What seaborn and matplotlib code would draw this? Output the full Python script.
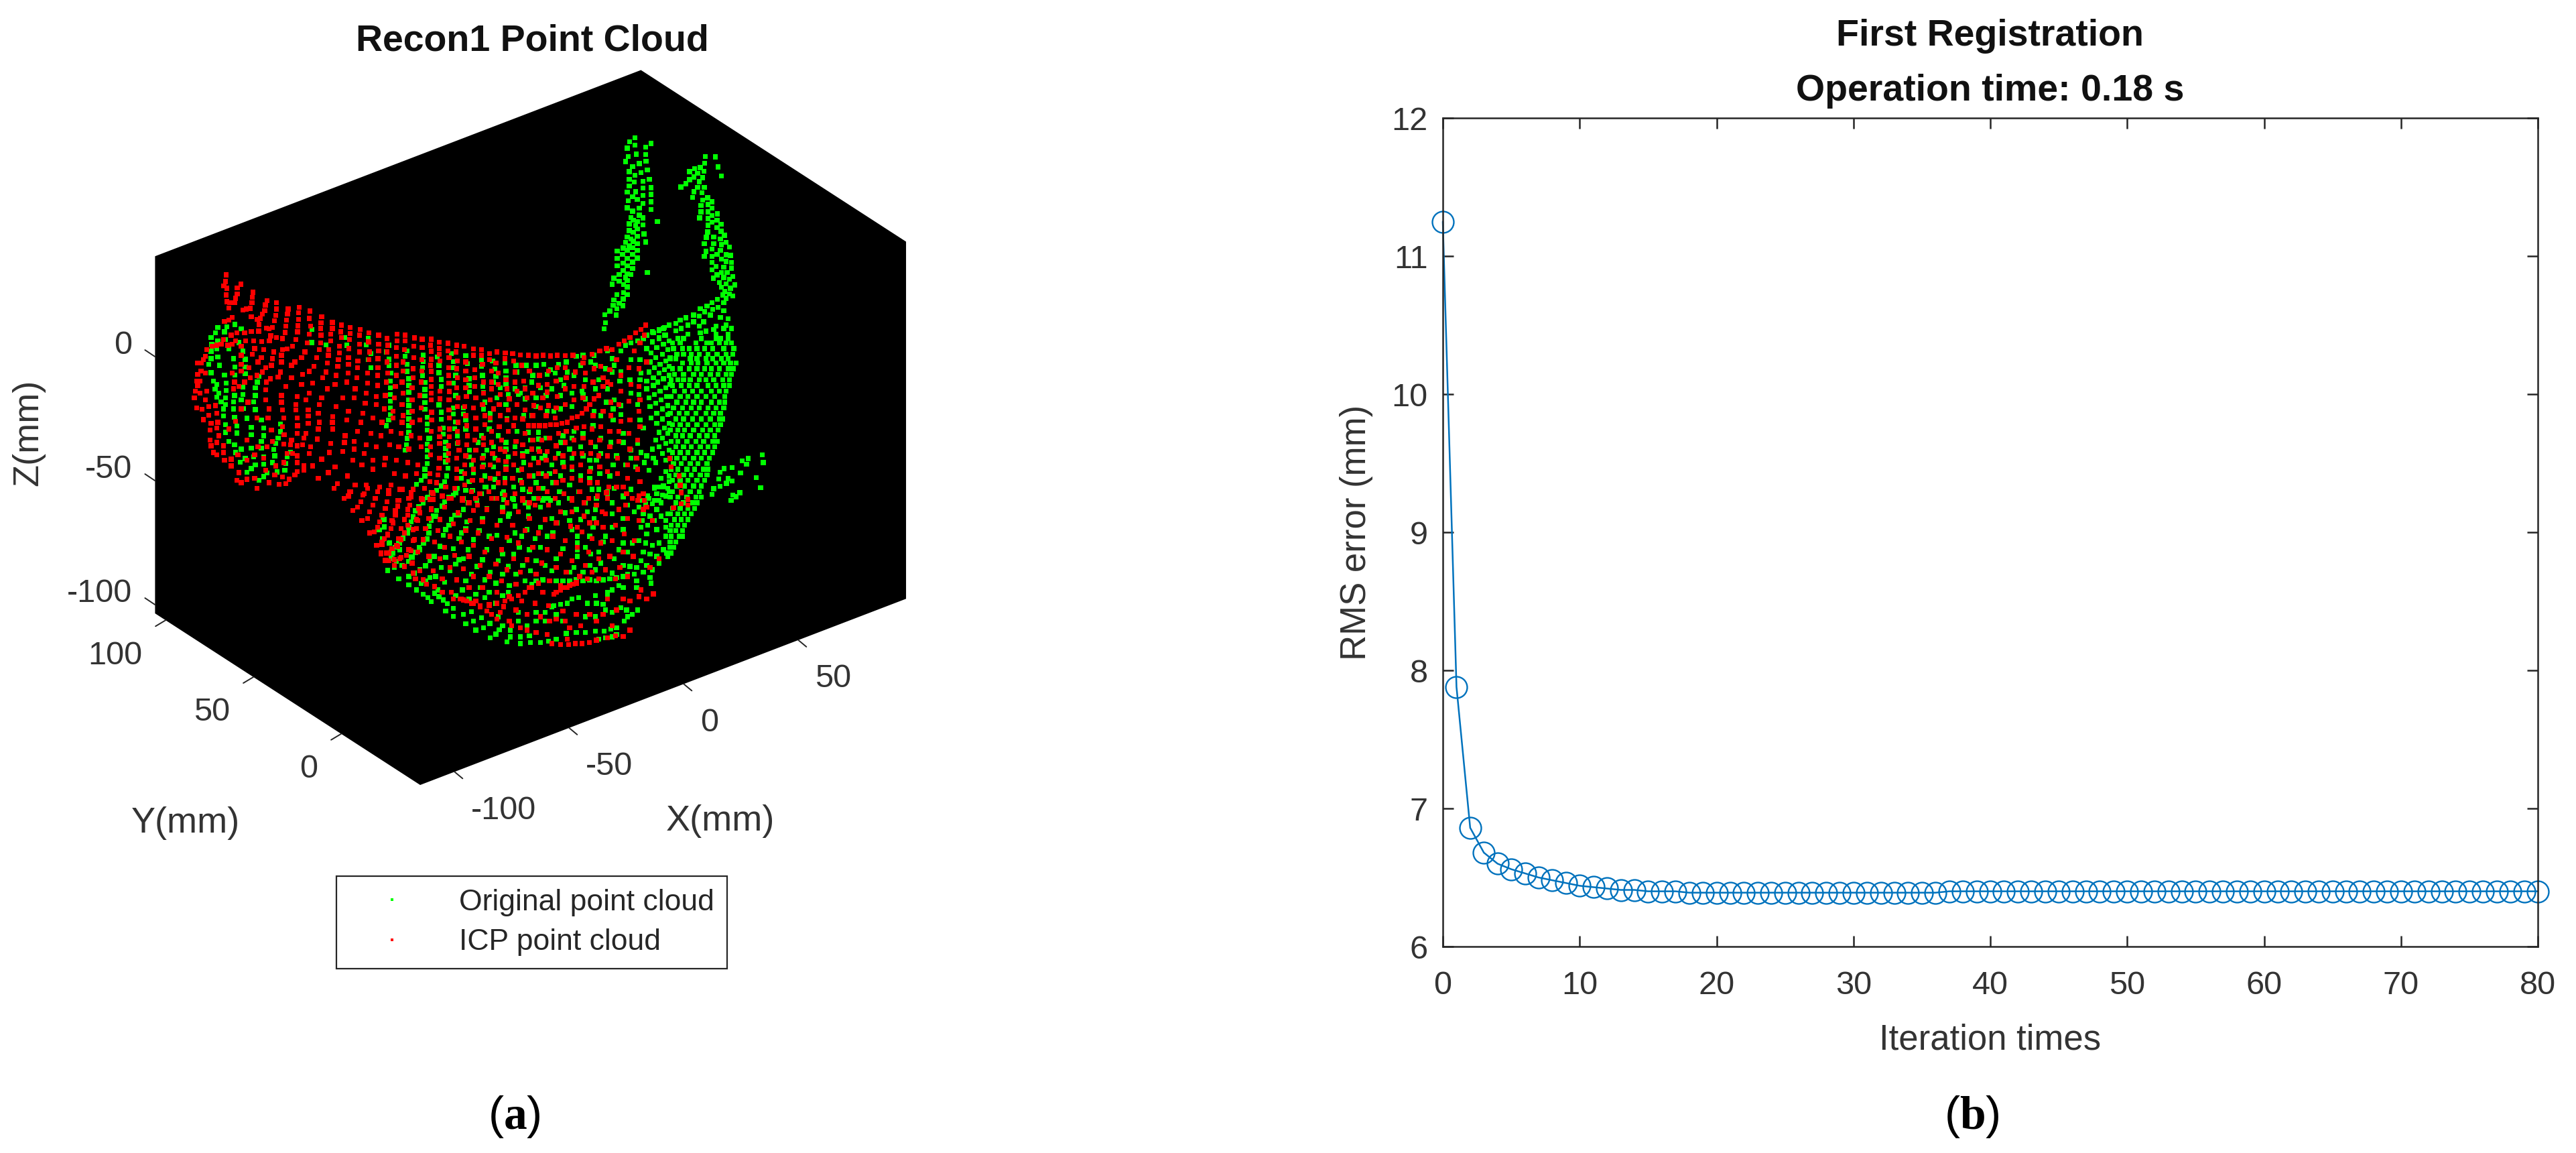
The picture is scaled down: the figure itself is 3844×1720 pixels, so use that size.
# Recon1 point cloud (a) and first registration error curve (b)

import numpy as np
import pandas as pd
import seaborn as sns
from matplotlib import pyplot as plt

# points, in 3x zoom pixels of each patch
red_left = [(172,30),(170,60),(162,80),(175,90),(172,120),(175,150),(188,155),(185,178),
    (238,72),(222,88),(222,115),(215,135),(210,155),(293,108),(290,130),(288,155),(280,180),(262,183),(248,187),
    (355,145),(348,165),(345,190),(335,205),(325,225),(312,230),(320,252),(318,282),
    (398,155),(397,183),(395,212),(388,235),(380,265),(352,268),(365,272),
    (450,183),(447,205),(443,232),(440,260),(437,288),(425,315),(397,310),(372,303),(366,325),
    (500,175),(497,200),(497,230),(493,258),(492,285),(485,320),(470,350),(445,362),(425,365),(420,390),(420,420),(415,465),(405,487),(370,495),(352,510),(350,545),
    (547,192),(545,225),(550,260),(545,295),(535,335),(525,375),(510,400),(480,420),(465,435),(465,490),(440,530),(420,570),(420,600),(425,635),(430,670),(425,710),(432,745),(430,787),
    (600,217),(597,245),(595,270),(597,300),(595,335),(590,365),(578,400),(565,440),(545,462),(515,475),(510,520),(490,575),(485,610),(485,635),(490,670),(492,705),(490,740),(465,770),(460,790),
    (648,243),(648,270),(640,295),(640,325),(632,365),(630,390),(625,425),(620,465),(605,490),(560,515),(545,560),(530,590),(540,635),(540,662),(540,695),(530,740),(520,760),(515,790),(490,840),(490,870),
    (688,255),(685,285),(688,310),(680,350),(680,380),(675,410),(672,440),(665,480),(660,520),(625,540),(600,580),(590,610),(585,650),(590,690),(585,720),(580,765),(550,800),(545,830),(520,885),
    (728,265),(728,292),(725,320),(722,360),(720,400),(720,430),(718,470),(712,510),(695,580),(665,620),(650,665),(648,690),(650,720),(640,785),(635,825),(600,855),(560,885),(520,905),(490,910),
    (772,275),(770,300),(770,340),(770,375),(762,415),(760,445),(758,490),(750,540),(745,580),(720,640),(712,680),(705,750),(702,780),(695,820),(660,890),(630,915),(585,940),
    (812,290),(810,330),(815,375),(812,410),(805,470),(805,515),(800,560),(795,605),(785,650),(775,690),(760,730),(745,775),(745,810),(740,860),(715,930),(670,965),(655,985),
    (855,300),(855,340),(855,370),(852,405),(852,445),(850,480),(850,525),(845,575),(845,610),(830,670),(820,740),(800,790),(790,830),(780,880),(750,970),(725,1000),
    (893,315),(895,345),(892,375),(892,420),(895,470),(890,510),(885,570),(880,630),(870,690),(865,750),(845,800),(830,860),(830,900),(800,970),(790,1010),
    (937,295),(937,325),(935,355),(935,395),(935,435),(935,480),(930,530),(925,580),(920,640),(920,670),(910,730),(905,790),(885,850),(880,880),(860,980),(850,1000),
    (973,300),(973,325),(970,365),(965,420),(965,460),(960,510),(965,560),(960,610),(965,660),(960,690),(955,740),(945,800),(935,860),(925,920),(910,970),(900,1010),
    (1015,312),(1012,350),(1012,400),(1010,450),(1010,490),(1005,535),(1005,590),(1005,640),(1005,690),(1000,750),(990,810),(985,870),(975,930),(960,990),
    (1050,318),(1050,355),(1048,410),(1048,460),(1045,510),(1040,570),(1045,625),(1040,680),(1040,760),(1045,800),(1030,880),(1025,920),(1000,1005),
    (200,220),(185,232),(165,238),(285,218),(255,290),(285,283),(320,282),(295,325),(332,328),(365,325),(220,290),(195,300),(160,320),(215,325),(150,340),(130,345),(110,350),(180,345),(200,340),
    (85,365),(80,395),(70,410),(60,425),(45,425),(60,460),(45,475),(80,470),(40,505),(55,505),(45,525),(35,550),(55,560),(85,550),(30,580),(80,590),(40,625),(65,632),(95,620),(125,615),(95,658),(130,650),
    (70,678),(105,695),(135,690),(100,725),(130,715),(140,750),(100,770),(105,795),(130,780),(160,795),(115,825),(130,835),(160,825),(165,860),(195,855),(195,885),
    (240,350),(260,325),(300,360),(290,385),(340,365),(330,400),(315,420),(385,375),(380,405),(375,435),(350,445),(335,465),(310,480),(280,490),(255,510),(230,530),(205,540),
    (240,390),(240,430),(240,460),(275,445),(200,470),(210,510),(350,590),(365,630),(360,670),(375,725),(380,775),(355,800),(315,800),(265,770),(310,670),(270,600),(240,630),(215,685),(185,720),
    (230,915),(265,945),(220,950),(240,960),(300,940),(310,985),(365,960),(410,968),(440,965),(455,945),(480,925),(425,935),(390,925),(350,905),(430,870),(395,885),(340,850),(300,835),(265,860),(225,835),(490,795),(445,830),(470,830)]

green_left = [(135,265),(175,262),(212,252),(240,272),(125,290),(165,285),(105,310),(135,325),(170,320),(230,333),(108,342),(185,362),(130,362),(105,372),(248,372),(135,398),(105,405),(205,405),(258,408),
    (95,430),(142,435),(212,443),(258,443),(105,468),(165,478),(212,478),(258,472),(320,485),(115,505),(172,515),(312,510),(130,520),(123,542),(172,548),(248,533),(303,535),(140,560),(210,570),(248,565),(303,570),
    (130,578),(170,580),(240,590),(150,598),(205,598),(295,598),(170,610),(160,630),(205,630),(250,628),(303,633),(160,662),(210,668),(265,672),(330,680),(415,697),(170,700),(220,706),(285,713),(340,716),(415,732),
    (170,735),(220,738),(285,745),(340,750),(405,760),(185,775),(330,775),(395,785),(210,790),(240,810),(285,805),(330,805),(385,812),(215,825),(460,823),(258,852),(295,845),(340,845),(390,840),(445,845),
    (235,868),(380,870),(440,875),(303,880),(340,878),(285,897),(435,905),(265,913),(355,917),(400,912),(340,933),(320,950),
    (557,275),(595,268),(555,333),(620,343),(702,310),(712,345),(808,315),(800,343),(820,382),(810,410),(820,445),(900,345),(890,375),(902,408),(902,435),(910,470),(908,505),(908,535),(908,565),(908,595),(908,625),(908,655),(900,680),(890,705),
    (982,370),(973,395),(982,430),(982,462),(990,495),(990,525),(990,555),(990,590),(990,615),(990,645),(990,675),(990,705),(990,735),(982,762),(980,790),(973,815),
    (1055,390),(1055,418),(1052,445),(1052,480),(1062,512),(1062,543),(1062,572),(1062,602),(1062,632),(1072,668),(1072,697),(1072,725),(1080,762),(1072,788),(1072,815),(1072,845),(1072,875),(1062,900),(1062,930),(1045,950),(1025,968)]

red_gap = [(85,10),(130,55),(150,45),(160,25),(170,110),(190,95),(205,70),(215,40),(235,10),(210,155),(235,145),(245,115),(260,85),(270,55),(280,25),
    (245,210),(265,205),(280,185),(290,160),(300,130),(315,100),(322,70),(330,20),(275,265),(300,262),(310,235),(325,215),(340,190),(350,165),(360,130),(370,90),(375,65),(380,15),
    (295,300),(320,300),(345,280),(370,270),(385,240),(400,210),(415,175),(415,130),(425,85),(430,50),(440,15),(380,325),(410,310),(430,290),(445,240),(455,190),(460,155),(470,120),(480,60),(490,10),(520,100),(515,60),(525,30)]

green_gap = [(305,150),(310,183),(288,197),(325,220),(303,237),(333,257),(360,275),(345,295),(378,255),(395,232),(415,210),(422,187),(430,160),(440,138),(448,112),(465,92),(485,72),(503,52),(520,30),
    (350,300),(340,320),(430,318),(450,297),(467,275),(487,255),(503,237),(512,210),(512,180),(520,155),(530,135),(530,315)]

red_mid = [(10,78),(8,105),(10,132),(10,168),(8,195),(10,222),(10,258),(10,290),(10,320),(10,350),(12,405),(12,440),(10,490),(8,560),(8,595),(5,680),(5,715),
    (47,92),(47,120),(47,145),(50,175),(50,310),(50,345),(50,480),(48,515),(48,545),(48,610),(45,655),(40,685),(35,720),(20,770),
    (85,96),(85,130),(90,160),(88,205),(88,240),(90,275),(92,312),(90,350),(90,395),(92,430),(92,480),(92,515),(88,555),(88,590),(85,620),(75,740),(60,780),
    (125,105),(122,135),(128,175),(125,210),(128,250),(125,295),(130,340),(128,380),(130,450),(128,490),(130,540),(135,575),(125,610),(125,660),(125,700),(115,745),(100,790),
    (158,110),(165,180),(165,220),(165,260),(165,295),(168,335),(160,380),(165,420),(170,465),(172,510),(170,550),(165,600),(160,640),(160,680),(160,730),(150,790),
    (200,122),(200,150),(205,215),(205,250),(205,290),(210,340),(200,385),(210,430),(210,480),(205,530),(210,575),(200,620),(200,660),(195,710),(190,760),(180,810),
    (235,125),(235,150),(240,190),(245,270),(245,320),(240,370),(250,420),(250,460),(245,520),(245,550),(240,610),(240,650),(235,710),(228,770),(218,820),
    (272,142),(272,170),(280,220),(280,270),(280,300),(275,350),(290,390),(275,430),(280,490),(280,540),(285,590),(275,640),(275,700),(268,760),
    (305,135),(300,185),(310,230),(310,280),(320,325),(315,370),(320,420),(315,470),(325,530),(320,570),(310,620),(310,680),(310,720),(305,790),
    (342,140),(340,165),(345,260),(350,300),(360,345),(355,395),(350,440),(355,490),(340,580),(345,625),(345,660),(340,720),(340,775),
    (375,142),(380,175),(385,225),(385,270),(395,310),(395,370),(385,430),(380,465),(390,535),(385,590),(380,640),(375,700),(385,770),
    (410,148),(415,195),(425,265),(430,300),(440,340),(430,395),(420,435),(430,500),(420,550),(420,600),(415,660),(415,720),(420,790),
    (445,150),(450,220),(465,320),(470,375),(465,420),(445,465),(470,465),(465,530),(460,570),(455,640),(450,690),(455,750),(450,810),
    (480,153),(495,240),(490,285),(510,340),(500,385),(495,465),(520,465),(505,530),(495,580),(490,630),(490,680),(490,745),(490,790),
    (512,150),(535,220),(530,280),(530,315),(535,375),(525,420),(545,460),(570,460),(540,520),(530,580),(525,620),(525,690),(530,760),
    (545,153),(575,205),(570,265),(575,335),(570,385),(565,430),(595,455),(620,450),(580,500),(570,555),(565,610),(565,670),(570,720),(565,790),
    (575,150),(610,205),(615,250),(610,300),(610,370),(640,430),(665,425),(615,490),(610,540),(600,600),(605,650),(600,710),(605,770),
    (610,152),(655,225),(650,290),(650,350),(685,410),(705,390),(720,370),(660,475),(650,530),(650,590),(640,650),(640,700),(640,790),
    (645,150),(690,185),(700,230),(695,290),(690,340),(740,345),(760,330),(695,470),(690,520),(685,590),(680,640),(680,710),(675,760),
    (695,160),(740,210),(735,270),(780,290),(735,420),(730,480),(725,540),(725,590),(720,670),(720,720),(715,790),
    (730,145),(770,200),(780,250),(800,270),(780,400),(770,470),(765,530),(760,600),(765,650),(755,720),(755,780),
    (765,130),(810,215),(815,280),(815,360),(815,420),(810,490),(810,560),(800,600),(800,670),(795,765),
    (795,120),(840,170),(860,240),(860,310),(850,370),(860,445),(850,490),(850,535),(845,610),(845,680),(840,740),
    (820,125),(850,100),(875,85),(900,70),(925,50),(950,35),(970,15),(945,95),(920,130),(895,205),(905,280),(895,355),(900,440),(895,500),(900,570),(890,640),(890,700),(885,770),(880,820),
    (965,60),(975,180),(940,210),(940,290),(945,350),(940,400),(945,470),(935,530),(930,610),(935,660),(945,715),(960,770),(935,800),(965,800),(975,830)]

green_mid = [(38,158),(45,195),(45,228),(55,258),(55,290),(45,372),(55,405),(55,437),(65,475),(65,503),(5,520),(75,538),(75,567),(75,597),(75,627),(85,655),(80,690),(70,715),(55,735),(35,755),(12,765),
    (100,142),(110,178),(108,205),(120,240),(110,275),(120,330),(110,385),(110,412),(120,448),(115,478),(128,512),(128,545),(145,670),(145,700),(128,745),(110,775),(90,790),(70,805),
    (165,152),(172,188),(180,255),(180,285),(182,313),(155,385),(155,412),(165,440),(165,480),(182,575),(180,605),(190,640),(200,675),(180,715),(165,755),(155,790),
    (235,172),(235,200),(240,240),(242,290),(245,318),(250,360),(245,390),(275,410),(275,440),(270,480),(235,510),(220,540),(260,575),(245,600),(245,640),(250,690),(250,740),(235,770),(215,800),
    (285,175),(295,212),(300,245),(290,270),(320,295),(305,340),(315,370),(350,435),(310,510),(290,560),(295,610),(290,650),(295,705),(290,740),(285,790),
    (340,185),(345,220),(345,250),(345,280),(355,325),(345,370),(400,325),(395,490),(345,540),(345,570),(355,605),(345,650),(340,700),(335,760),
    (390,195),(395,225),(385,300),(430,295),(410,320),(425,420),(445,495),(385,560),(420,590),(400,665),(425,630),(410,710),(380,740),(375,790),
    (435,195),(465,240),(460,270),(430,345),(480,340),(460,420),(490,495),(455,530),(440,580),(470,610),(465,690),(480,720),(420,750),(430,810),
    (480,195),(515,190),(497,240),(530,235),(500,295),(525,330),(480,380),(530,400),(525,520),(490,525),(490,570),(505,610),(505,680),(510,745),(470,790),
    (545,215),(580,190),(565,230),(590,260),(550,300),(590,330),(560,400),(520,600),(550,640),(540,680),(555,720),(535,790),(510,800),
    (615,180),(660,155),(620,225),(650,240),(605,285),(640,320),(590,390),(600,510),(590,540),(580,590),(600,630),(590,690),(585,760),(545,800),
    (690,150),(680,195),(700,260),(685,310),(690,325),(640,380),(650,490),(640,520),(630,570),(640,610),(640,660),(630,730),(630,790),
    (740,150),(725,180),(745,195),(770,200),(760,260),(745,300),(700,345),(740,400),(690,500),(680,560),(690,600),(680,640),(680,690),(670,760),
    (800,130),(820,165),(790,210),(820,225),(800,300),(795,360),(770,420),(735,465),(770,520),(745,560),(720,620),(725,655),(720,700),(730,750),(760,750),
    (860,130),(880,105),(830,195),(860,225),(855,265),(830,350),(825,390),(825,440),(870,500),(815,540),(770,590),(750,620),(765,680),(800,770),(820,810),
    (905,95),(935,85),(905,170),(900,260),(905,320),(860,375),(860,415),(905,575),(870,540),(840,600),(825,640),(810,690),(870,785),(830,745),
    (960,75),(975,60),(945,170),(975,120),(950,230),(945,260),(940,325),(935,370),(945,440),(960,475),(935,545),(905,610),(925,650),(880,640),(905,750),
    (1000,45),(1030,35),(1055,25),(1000,90),(1030,75),(1060,60),(995,140),(1020,115),(1050,100),(1075,85),(990,180),(1015,160),(1045,145),(1070,125),(985,225),(1010,205),(1035,190),(1060,175),(1080,160),
    (975,265),(1005,250),(1030,230),(1055,215),(1075,200),(975,300),(1005,285),(1025,270),(1050,255),(1075,240),(985,340),(1010,325),(1035,310),(1060,295),(1080,280),(990,380),(1015,365),(1040,350),(1065,335),
    (995,430),(1020,410),(1045,390),(1070,375),(1020,455),(1045,435),(1070,415),(1030,495),(1055,475),(1075,455),(1015,530),(1045,520),(1070,500),(1000,570),(1030,560),(1060,545),(950,585),(975,600),(1005,610),(1045,590),(1075,575),
    (1015,630),(1060,620),(965,630),(985,665),(1040,700),(1060,670),(1075,690),(1010,745),(1030,740),(1050,735),(1075,715),(1020,770),(1045,775),(1075,760),(985,790),(1010,800),(1040,810),(970,815)]

red_low = [(100,80),(90,125),(75,170),(70,205),(55,235),(30,265),(8,280),
    (150,70),(145,120),(130,165),(115,205),(105,250),(95,280),(60,315),(25,318),(45,348),
    (205,70),(195,115),(185,165),(170,210),(170,260),(150,300),(115,335),(85,345),(60,350),
    (260,75),(250,120),(240,160),(225,205),(215,255),(190,310),(165,360),(130,375),(85,370),
    (330,70),(310,110),(290,165),(280,215),(265,265),(240,330),(200,395),(170,405),(180,430),
    (390,80),(370,135),(350,185),(335,240),(310,290),(290,340),(260,395),(215,435),(230,455),
    (450,70),(440,125),(425,170),(405,215),(385,265),(355,325),(335,380),(300,430),(265,465),(300,490),
    (520,70),(500,120),(480,175),(460,225),(440,280),(420,330),(395,385),(365,435),(340,490),(385,520),(350,520),
    (590,90),(570,130),(545,190),(520,250),(490,310),(470,370),(440,420),(420,470),(395,525),(430,540),
    (660,80),(640,130),(615,190),(590,245),(565,300),(540,365),(510,420),(480,470),(450,530),(470,555),
    (715,100),(690,160),(670,215),(640,270),(620,340),(590,390),(565,440),(545,490),(510,550),(500,575),(520,590),
    (775,100),(760,165),(730,225),(705,290),(680,345),(650,400),(630,455),(600,510),(575,555),(560,580),(545,610),
    (830,130),(810,180),(795,240),(770,300),(745,360),(720,410),(690,470),(655,530),(630,570),(600,620),
    (880,130),(875,195),(850,260),(830,320),(810,380),(780,440),(750,490),(715,540),(680,590),(650,650),(610,640),
    (935,150),(925,220),(905,290),(880,350),(855,400),(830,460),(860,470),(800,500),(775,550),(740,600),(720,670),(680,660),
    (990,180),(970,250),(955,310),(940,370),(915,420),(900,450),(870,460),(840,575),(810,610),(770,680),(790,720),
    (1040,70),(1030,140),(1020,200),(1010,270),(1000,340),(970,400),(950,430),(900,590),(870,650),(830,725),(860,700),
    (1110,20),(1090,120),(1075,190),(1060,260),(1050,330),(1030,390),(1000,430),(960,590),(920,640),(895,720),(925,720),
    (1150,70),(1130,160),(1115,230),(1110,310),(1095,380),(1075,430),(1040,520),(1020,590),(990,620),(958,715),(990,705),
    (1200,120),(1180,170),(1160,260),(1155,330),(1130,420),(1110,520),(1080,570),(1060,640),(1040,695),(1075,685),(1110,688),(1140,660),(1215,520),(1245,498),(1180,510),(1140,530),
    (850,470),(830,480),(810,490),(885,455),(900,445),(380,520),(410,530),(440,540),(470,550),(510,545),(545,540),(580,530),(610,520),(640,505),(670,490),(700,470),(730,450),
    (865,725),(850,620),(780,620),(880,80),(935,90),(990,100),(905,200),(960,180),(1015,130),(1045,20),(1180,60),(1240,170),(1190,480),(1230,380),(1270,340)]

green_low = [(40,165),(40,198),(15,212),(55,235),(35,252),(65,270),(90,290),(70,310),(75,340),(95,352),(85,380),(55,393),(120,370),(105,430),(150,420),(150,458),(175,405),(200,390),(205,452),(185,480),(215,500),(235,515),(250,533),(225,440),(245,425),(265,495),(285,510),(305,525),(323,542),(315,575),(350,563),(350,598),(395,590),(430,578),(405,632),(440,620),(475,605),(450,660),(485,650),(513,630),(550,600),(515,695),(540,678),(555,658),(570,640),(605,660),(605,690),(590,713),(650,690),(650,720),(695,715),(690,685),(740,715),(775,710),
    (235,65),(215,90),(195,110),(180,125),(170,155),(150,200),(125,250),(105,270),(110,300),
    (300,105),(275,125),(270,150),(250,170),(240,225),(215,270),(200,300),(180,310),(165,335),(148,353),
    (360,45),(330,65),(355,145),(340,165),(330,190),(315,210),(305,235),(290,285),(265,330),(245,350),(225,372),
    (435,35),(415,90),(395,120),(375,145),(410,175),(405,205),(385,225),(375,250),(350,295),(315,335),(295,380),(270,420),
    (495,20),(500,115),(480,160),(465,215),(440,255),(415,300),(395,340),(375,345),(360,365),(335,395),(310,445),(280,480),
    (570,50),(575,75),(570,110),(595,150),(560,170),(545,235),(510,240),(500,300),(480,345),(455,375),(430,410),(405,440),(390,480),(360,505),
    (620,75),(625,105),(600,140),(625,225),(600,260),(570,320),(550,350),(515,400),(490,435),(470,470),(450,500),(420,520),
    (690,40),(685,110),(685,150),(680,210),(655,240),(645,290),(620,320),(595,375),(570,410),(540,450),(510,490),(490,515),(595,490),
    (755,70),(740,110),(790,160),(740,200),(715,250),(690,300),(660,370),(630,410),(600,460),(570,505),(540,540),
    (820,90),(850,135),(815,180),(795,225),(770,240),(740,290),(720,350),(695,395),(670,440),(700,455),(720,440),(750,435),(780,440),(810,440),(840,440),(870,440),(900,435),(930,440),(960,435),(990,440),(1020,435),(1050,430),(1080,425),(1110,420),(1130,410),
    (870,170),(900,120),(880,210),(850,260),(840,295),(810,340),(790,395),(760,370),(940,90),(950,130),(920,165),(905,240),(905,270),(905,300),(905,330),(890,380),(870,400),
    (990,70),(985,120),(980,160),(975,200),(960,240),(940,290),(965,320),(960,370),(930,400),(1040,40),(1060,90),(1060,140),(1060,200),(1030,240),(1020,265),(1000,310),(1010,360),(985,390),
    (1110,60),(1130,100),(1110,160),(1110,210),(1110,270),(1090,300),(1070,340),(1110,370),(1060,405),
    (800,550),(830,545),(860,540),(880,520),(910,515),(950,540),(990,540),(1020,545),(985,505),(1040,510),(1060,480),(1090,460),(1040,490),(1110,470),(1170,440),(1170,470),(1230,425),(1235,450),
    (640,580),(680,590),(720,580),(760,580),(790,555),(640,620),(680,640),(720,620),(760,620),(810,590),(840,620),(900,590),(940,600),(985,600),(1030,570),(1060,580),(1100,560),(1125,570),(1150,590),(1175,570),(1130,600),(1115,620),(1080,650),(1055,655),(1025,665),(985,665),(940,670),(900,670),(855,675),(810,700),(1080,680),(1060,690),(1030,695),(1000,700),
    (1160,130),(1180,110),(1210,100),(1240,95),(1260,120),(1280,150),(1300,170),(1310,140),(1270,80),(1300,60),(1250,20),(1290,20),(1310,25),(1220,60),(1190,80),(1200,140),(1230,150),(1190,200),(1215,230),(1180,260),(1210,270),(1240,280),(1270,270),(1300,240),(1290,300),(1260,330),(1230,320),(1200,310),(1190,350),(1215,370),(1170,380),(1160,410),(1200,400),(1240,390),(1270,360),(1310,330),(1300,200),(1150,270),(1130,310),(1140,375),(1195,170),(1220,190),(1260,210),(1250,170)]

green_horns = [(203,47),(178,65),(203,80),(168,93),(250,88),(275,72),(208,120),(172,130),(250,122),(160,153),(252,152),(222,162),(192,175),(258,190),(177,198),(230,203),(202,215),(177,232),(267,232),(238,242),(200,245),(177,262),(275,270),(238,272),(168,290),(205,288),(275,300),(238,305),(192,310),(172,328),(213,323),(275,333),(238,340),(168,360),(222,362),(275,367),(192,375),(222,393),(185,403),(238,405),(195,415),(213,422),(177,432),(205,440),(238,437),(303,422),(177,462),(213,455),(195,470),(243,477),(168,490),(213,487),(185,500),(160,515),(195,510),(213,520),(250,513),(177,530),(150,540),(123,553),(168,550),(192,538),(213,550),(147,568),(192,568),(123,587),(168,587),(213,585),(150,607),(192,603),(123,620),(168,620),(150,640),(192,632),(168,655),(132,658),(185,658),(258,650),(108,675),(160,672),(132,688),(168,685),(100,702),(152,704),(168,714),(122,748),(152,740),(168,748),(108,772),(150,768),(132,787),(105,797),(148,798),(90,822),(122,812),(68,838),(118,840),(70,875),(65,902),
    (518,130),(562,132),(515,160),(575,177),(470,185),(495,180),(447,198),(512,197),(483,205),(590,218),(467,222),(505,225),(447,234),(490,243),(430,252),(408,267),(483,268),(513,268),(467,288),(503,293),(460,313),(528,315),(505,325),(548,333),(498,350),(530,345),(548,362),(530,378),(498,378),(572,387),(547,395),(492,405),(530,408),(570,415),(547,425),(588,433),(530,438),(570,448),(528,468),(588,465),(555,490),(603,483),(522,492),(585,500),(513,520),(555,520),(610,515),(590,525),(625,535),(547,545),(585,550),(520,555),(630,573),(610,570),(570,568),(513,578),(547,577),(590,590),(635,605),(610,600),(547,605),(565,622),(600,625),(635,630),(547,637),(590,650),(615,650),(640,668),(570,660),(553,675),(600,672),(625,680),(580,695),(610,700),(650,705),(590,715),(630,720),(605,735),(625,745),(640,755),(595,750),(610,765),(572,770),(548,785),(600,785),(525,800),(575,805),(550,815),(495,812),(515,825),(600,820),(465,840),(490,845),(540,840),(620,857),(430,852),(585,850),(465,870),(510,870),(405,862),(385,878),(440,885),(355,885),(490,890),(565,890),(610,885),(410,900),(310,910),(330,900),(285,920),(310,940),(335,930),(385,910),(440,925),(495,920),(520,912),(555,905),(600,900),(635,900),(565,925),(620,925)]

# right side of the cloud, listed row by row: {row: [columns]}
green_right = {15:[215,240,320,385,405,440],35:[190,225,295,345,365,400,430,455],60:[195,235,265,300,335,370,420,465],85:[210,240,275,310,350,390,430,460],105:[180,205,270,300,340,370,410,440],
    125:[235,275,305,345,385,420,450,475],150:[190,225,265,300,335,365,400,440,462],175:[200,240,285,320,360,395,430,455],200:[185,215,240,270,310,340,375,415,445],225:[190,230,265,300,350,385,420,445],
    250:[200,245,280,320,365,400,430],275:[185,225,260,300,340,380,425],300:[210,250,285,320,365,400,425],325:[195,235,275,310,350,385,420],350:[180,220,255,295,340,375,405],
    375:[205,240,280,320,360,400,415],400:[190,225,260,300,340,380,405],425:[180,215,245,285,325,360,395],450:[205,235,270,310,345,380],475:[185,215,255,295,330,370,390],
    500:[205,240,275,315,350,380],525:[190,225,260,300,335,370],550:[180,210,245,285,320,355],575:[195,230,270,305,345],600:[185,215,255,290,330,350],625:[205,240,275,315,345],
    650:[190,225,260,300,335],675:[210,245,285,320],700:[190,230,270,310],725:[180,215,255,295,320],750:[205,240,280,300],775:[190,225,260,290],800:[180,215,245,275],
    825:[200,230,260],850:[185,215,245],875:[180,205,235],900:[185,220,235],925:[180,205],950:[180,195],975:[165,185]}
green_spur = [(593,535),(530,552),(503,562),(522,578),(597,570),(422,597),(458,592),(403,614),(495,616),(397,643),(440,642),(458,652),(565,637),(432,663),(403,677),(585,682),(375,687),(492,705),(460,715),(368,713),(475,723),(453,740)]
red_right = [(178,552),(185,590),(220,630),(225,672),(230,705),(260,735),(260,760),(230,755),(195,772)]

iterations = list(range(81))
rms_error = [11.25,7.88,6.86,6.68,6.60,6.56,6.53,6.50,6.48,6.46,6.44,6.43,6.42,6.41,6.41,6.40,6.40,6.40,6.39,6.39,
    6.39,6.39,6.39,6.39,6.39,6.39,6.39,6.39,6.39,6.39,6.39,6.39,6.39,6.39,6.39,6.39,6.39,6.40,6.40,6.40,
    6.40,6.40,6.40,6.40,6.40,6.40,6.40,6.40,6.40,6.40,6.40,6.40,6.40,6.40,6.40,6.40,6.40,6.40,6.40,6.40,
    6.40,6.40,6.40,6.40,6.40,6.40,6.40,6.40,6.40,6.40,6.40,6.40,6.40,6.40,6.40,6.40,6.40,6.40,6.40,6.40,6.40]

x_ticks = [-100, -50, 0, 50]
y_ticks = [0, 50, 100]
z_ticks = [-100, -50, 0]
x_lim = (-115, 97)
y_lim = (-45, 106)
z_lim = (-103.5, 40.5)

sns.set_theme(style="ticks")
plt.rcParams["font.family"] = ["Liberation Sans", "DejaVu Sans"]
plt.rcParams["mathtext.fontset"] = "custom"
plt.rcParams["mathtext.rm"] = "Liberation Serif"
plt.rcParams["mathtext.bf"] = "Liberation Serif:bold"

W, H = 3844, 1720
fig = plt.figure(figsize=(W / 100, H / 100), dpi=100, facecolor="white")

# panel a lives on an axes in picture pixels
ax1 = fig.add_axes([0, 0, 1, 1])
ax1.set_xlim(0, W)
ax1.set_ylim(H, 0)
ax1.axis("off")


# oblique view of the box, fitted to the tick marks
def proj(x, y, z):
    sx = 627 + 3.42 * (x - x_lim[0]) - 2.62 * (y - y_lim[0])
    sy = 1171 - 1.31 * (x - x_lim[0]) - 1.695 * (y - y_lim[0]) - 3.7 * (z - z_lim[0])
    return sx, sy


corners = [(x_lim[0], y_lim[0], z_lim[0]), (x_lim[1], y_lim[0], z_lim[0]), (x_lim[1], y_lim[0], z_lim[1]),
           (x_lim[1], y_lim[1], z_lim[1]), (x_lim[0], y_lim[1], z_lim[1]), (x_lim[0], y_lim[1], z_lim[0])]
hexagon = [proj(*c) for c in corners]
ax1.fill([p[0] for p in hexagon], [p[1] for p in hexagon], color="black", lw=0, zorder=0)


def patch(points, x0, y0, name):
    df = pd.DataFrame(points, columns=["x", "y"]).astype(float)
    df["x"] = x0 + df["x"] / 3
    df["y"] = y0 + df["y"] / 3
    df["cloud"] = name
    return df


ORIG = "Original point cloud"
ICP = "ICP point cloud"
right_points = [(c, r) for r, cols in green_right.items() for c in cols]
cloud = pd.concat([
    patch(green_left, 280, 400, ORIG), patch(green_gap, 470, 725, ORIG), patch(green_mid, 640, 480, ORIG),
    patch(green_low, 560, 720, ORIG), patch(green_horns, 880, 190, ORIG), patch(right_points, 940, 500, ORIG),
    patch(green_spur, 940, 500, ORIG), patch(red_left, 280, 400, ICP), patch(red_gap, 470, 725, ICP),
    patch(red_mid, 640, 480, ICP), patch(red_low, 560, 720, ICP), patch(red_right, 940, 500, ICP)],
    ignore_index=True)

sns.scatterplot(data=cloud, x="x", y="y", hue="cloud", hue_order=[ORIG, ICP],
                palette={ORIG: "#00ff00", ICP: "#ff0000"}, s=26, linewidth=0, marker="s", ax=ax1, zorder=2)
handles, labels = ax1.get_legend_handles_labels()
leg = ax1.legend(handles, labels, loc="upper left", bbox_to_anchor=(502, 1307), bbox_transform=ax1.transData,
                 fontsize=32, frameon=True, fancybox=False, framealpha=1, edgecolor="#262626", borderaxespad=0,
                 markerscale=0.6, handletextpad=0.8, handlelength=2.9, borderpad=0.42, labelspacing=0.42)
leg.get_frame().set_linewidth(1.6)
ax1.set_xlim(0, W)
ax1.set_ylim(H, 0)
ax1.axis("off")

tick_col = "#262626"
text_col = "#333333"
for t in z_ticks:
    sx, sy = proj(x_lim[0], y_lim[1], t)
    ax1.plot([sx - 15, sx], [sy - 10, sy], color=tick_col, lw=1.4, zorder=1)
    ax1.text(197, sy - 17, str(t), ha="right", va="center", fontsize=35, color=text_col)
for t in y_ticks:
    sx, sy = proj(x_lim[0], t, z_lim[0])
    ax1.plot([sx, sx - 15], [sy, sy + 9], color=tick_col, lw=1.4, zorder=1)
    ax1.text(sx - 35, sy + 53, str(t), ha="right", va="center", fontsize=35, color=text_col)
for t in x_ticks:
    sx, sy = proj(t, y_lim[0], z_lim[0])
    ax1.plot([sx, sx + 12], [sy, sy + 10], color=tick_col, lw=1.4, zorder=1)
    ax1.text(sx + 25, sy + 58, str(t), ha="left", va="center", fontsize=35, color=text_col)

ax1.text(794, 61, "Recon1 Point Cloud", ha="center", va="center", fontsize=40, fontweight="bold", color="#111111")
ax1.text(42, 645, "Z(mm)", rotation=90, ha="center", va="center", fontsize=39, color=text_col)
ax1.text(277, 1228, "Y(mm)", ha="center", va="center", fontsize=39, color=text_col)
ax1.text(1075, 1225, "X(mm)", ha="center", va="center", fontsize=39, color=text_col)
ax1.text(767, 1666, r"($\mathbf{a}$)", ha="center", va="center", fontsize=50, color="black")
ax1.text(2942, 1666, r"($\mathbf{b}$)", ha="center", va="center", fontsize=50, color="black")

# panel b
ax2 = fig.add_axes([2153 / W, 1 - 1412 / H, (3787 - 2153) / W, (1412 - 176) / H])
sns.lineplot(x=iterations, y=rms_error, marker="o", color="#0072BD", lw=1.8, errorbar=None, ax=ax2,
             markersize=23, markerfacecolor="none", markeredgecolor="#0072BD", markeredgewidth=1.7, clip_on=False)
ax2.set_xlim(0, 80)
ax2.set_ylim(6, 12)
ax2.set_xticks(range(0, 81, 10))
ax2.set_yticks(range(6, 13))
ax2.tick_params(direction="in", top=True, right=True, length=11.5, width=1.8, color=tick_col,
                labelsize=35, labelcolor=text_col, pad=16)
ax2.tick_params(axis="x", pad=26)
for s in ax2.spines.values():
    s.set_visible(True)
    s.set_linewidth(1.8)
    s.set_color(tick_col)
ax2.set_xlabel("Iteration times", fontsize=38, color=text_col, labelpad=24)
ax2.set_ylabel("RMS error (mm)", fontsize=38, color=text_col, labelpad=20)
ax2.set_title("First Registration\nOperation time: 0.18 s", fontsize=40, fontweight="bold", color="#111111",
              linespacing=1.75, pad=19)

fig.savefig("out.png", dpi=100, facecolor="white")
